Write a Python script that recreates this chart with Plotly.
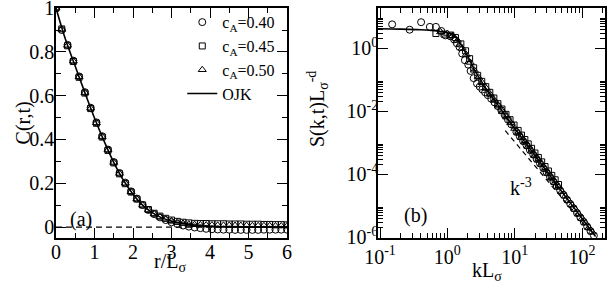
import plotly.graph_objects as go

# ---------------- panel (a): C(r,t) vs r/L ----------------
r_grid = [0.00, 0.15, 0.30, 0.45, 0.60, 0.75, 0.90, 1.05, 1.20, 1.35, 1.50, 1.65, 1.80, 1.95,
          2.10, 2.25, 2.40, 2.55, 2.70, 2.85, 3.00, 3.15, 3.30, 3.45, 3.60, 3.75, 3.90, 4.05,
          4.20, 4.35, 4.50, 4.65, 4.80, 4.95, 5.10, 5.25, 5.40, 5.55, 5.70, 5.85, 6.00]
C_040 = [1.000, 0.900, 0.832, 0.760, 0.688, 0.616, 0.545, 0.478, 0.415, 0.354, 0.297, 0.247,
         0.203, 0.163, 0.130, 0.101, 0.078, 0.059, 0.044, 0.032, 0.022, 0.014, 0.007, 0.002,
         -0.002, -0.005, -0.008, -0.010, -0.011, -0.012, -0.012, -0.013, -0.013, -0.013,
         -0.013, -0.013, -0.012, -0.012, -0.012, -0.012, -0.012]
C_045 = [1.000, 0.905, 0.828, 0.756, 0.684, 0.612, 0.541, 0.474, 0.411, 0.350, 0.293, 0.243,
         0.198, 0.160, 0.128, 0.101, 0.080, 0.063, 0.050, 0.040, 0.032, 0.026, 0.022, 0.019,
         0.017, 0.016, 0.016, 0.015, 0.015, 0.015, 0.014, 0.014, 0.014, 0.013, 0.013, 0.013,
         0.012, 0.012, 0.011, 0.011, 0.010]
C_050 = [1.000, 0.903, 0.830, 0.758, 0.686, 0.614, 0.543, 0.476, 0.413, 0.352, 0.295, 0.245,
         0.200, 0.161, 0.128, 0.100, 0.078, 0.060, 0.046, 0.036, 0.028, 0.022, 0.017, 0.013,
         0.011, 0.010, 0.009, 0.009, 0.008, 0.008, 0.008, 0.007, 0.007, 0.007, 0.006, 0.006,
         0.006, 0.006, 0.005, 0.005, 0.005]
r_ojk = [0.0, 0.25, 0.5, 0.75, 1.0, 1.25, 1.5, 1.75, 2.0, 2.25, 2.5, 2.75, 3.0, 3.25, 3.5,
         3.75, 4.0, 4.5, 5.0, 5.5, 6.0]
C_ojk = [1.0, 0.855, 0.734, 0.614, 0.498, 0.392, 0.295, 0.214, 0.150, 0.100, 0.066, 0.042,
         0.027, 0.017, 0.010, 0.006, 0.004, 0.002, 0.001, 0.0005, 0.0003]
r_zero = [0.0, 6.0]
C_zero = [0.0, 0.0]

# ---------------- panel (b): S(k,t) L^-d vs kL ----------------
k_040 = [0.1514, 0.2754, 0.4074, 0.5495, 0.6761, 0.8128, 0.9333, 1.109, 1.259, 1.380, 1.514,
         1.660, 1.820, 2.042, 2.213, 2.455, 2.754, 3.020, 3.311, 3.631, 3.981, 4.467, 5.012,
         5.623, 6.310, 7.079, 7.943, 8.913, 10.59, 11.89, 13.34, 14.96, 16.79, 18.84, 21.13,
         23.71, 26.61, 29.85, 33.50, 37.58, 42.17, 47.32, 53.09, 59.57, 66.83, 74.99, 84.14,
         94.41, 105.9, 118.9, 133.4, 149.6]
S_040 = [5.754, 3.890, 6.761, 4.786, 4.786, 3.548, 2.570, 2.399, 1.905, 1.445, 1.096,
         0.676, 0.417, 0.302, 0.1905, 0.1122, 0.0759, 0.0603, 0.0490, 0.0398, 0.0324, 0.0251,
         0.0191, 0.01445, 0.01072, 0.00759, 0.00537, 0.00380, 2.188e-3, 1.585e-3, 1.122e-3,
         8.128e-4, 5.888e-4, 4.169e-4, 3.020e-4, 2.188e-4, 1.549e-4, 1.122e-4, 8.128e-5,
         5.754e-5, 4.169e-5, 3.020e-5, 2.188e-5, 1.549e-5, 1.122e-5, 8.128e-6, 5.754e-6,
         4.169e-6, 3.020e-6, 2.138e-6, 1.549e-6, 1.122e-6]
k_045 = [0.676, 0.891, 1.122, 1.318, 1.585, 1.862, 2.138, 2.455, 2.818, 3.236, 3.715, 4.266,
         4.898, 5.623, 6.457, 7.413, 8.511, 9.772, 11.22, 12.59, 14.13, 15.85, 17.78, 19.95,
         22.39, 25.12, 28.18, 31.62, 35.48, 39.81, 44.67]
S_045 = [2.951, 2.818, 2.630, 2.188, 1.380, 0.832, 0.468, 0.240, 0.138, 0.0891, 0.0603,
         0.0398, 0.0263, 0.01738, 0.01175, 0.00794, 0.00537, 0.00363, 0.00245, 0.00174,
         0.00126, 9.12e-4, 6.61e-4, 4.68e-4, 3.39e-4, 2.45e-4, 1.74e-4, 1.26e-4, 9.12e-5,
         6.61e-5, 4.68e-5]
k_050 = [0.794, 1.0, 1.202, 1.413, 1.660, 1.905, 2.188, 2.512, 2.884, 3.311, 3.802, 4.365,
         5.012, 5.754, 6.607, 7.586, 8.710, 10.0, 11.22, 12.59, 14.13, 15.85, 17.78, 19.95,
         22.39, 25.12, 28.18, 31.62, 35.48, 39.81, 44.67, 50.12, 56.23, 63.10, 70.79, 79.43,
         89.13, 100.0, 112.2, 125.9, 141.3]
S_050 = [3.311, 2.951, 2.512, 1.778, 1.0, 0.631, 0.355, 0.1995, 0.1202, 0.0794, 0.0525,
         0.0339, 0.0219, 0.01445, 0.00955, 0.00646, 0.00427, 2.82e-3, 2.042e-3, 1.445e-3,
         1.047e-3, 7.586e-4, 5.370e-4, 3.890e-4, 2.818e-4, 2.042e-4, 1.445e-4, 1.047e-4,
         7.586e-5, 5.370e-5, 3.890e-5, 2.818e-5, 1.995e-5, 1.445e-5, 1.047e-5, 7.586e-6,
         5.370e-6, 3.890e-6, 2.818e-6, 1.995e-6, 1.445e-6]
k_ojk = [0.0891, 0.1995, 0.398, 0.631, 1.0, 1.259, 1.585, 1.862, 2.239, 2.630, 3.162, 3.715,
         4.677, 5.888, 7.943, 11.48, 18.20, 31.62, 56.23, 100.0, 158.5]
S_ojk = [4.17, 4.07, 3.89, 3.63, 3.09, 2.51, 1.318, 0.759, 0.355, 0.178, 0.0933, 0.0537,
         0.0269, 0.0138, 5.43e-3, 1.905e-3, 5.13e-4, 1.047e-4, 1.995e-5, 3.89e-6, 1.047e-6]
k_pow = [7.24, 135.0]
S_pow = [2.4e-3, 1.41e-6]

xlin_ticks = [0, 1, 2, 3, 4, 5, 6]
ylin_ticks = [0, 0.2, 0.4, 0.6, 0.8, 1.0]
ylin_text = ["0", "0.2", "0.4", "0.6", "0.8", "1"]
xlog_ticks = [0.1, 1, 10, 100]
xlog_text = ["10<sup>-1</sup>", "10<sup>0</sup>", "10<sup>1</sup>", "10<sup>2</sup>"]
ylog_ticks = [1e-6, 1e-4, 1e-2, 1]
ylog_text = ["10<sup>-6</sup>", "10<sup>-4</sup>", "10<sup>-2</sup>", "10<sup>0</sup>"]

FONT = "Liberation Serif, Times New Roman, serif"
series_names = ["c<sub>A</sub>=0.40", "c<sub>A</sub>=0.45", "c<sub>A</sub>=0.50"]
symbols = ["circle-open", "square-open", "triangle-up-open"]
sizes = [7, 6, 7]

fig = go.Figure()

for i, (cv, nm) in enumerate(zip([C_040, C_045, C_050], series_names)):
    fig.add_trace(go.Scatter(x=r_grid, y=cv, mode="markers", name=nm, legendgroup=str(i),
                             marker=dict(symbol=symbols[i], size=sizes[i], color="black",
                                         line=dict(width=1, color="black")),
                             xaxis="x", yaxis="y"))
fig.add_trace(go.Scatter(x=r_ojk, y=C_ojk, mode="lines", name="OJK", legendgroup="3",
                         line=dict(color="black", width=1.6, shape="spline"),
                         xaxis="x", yaxis="y"))
fig.add_trace(go.Scatter(x=r_zero, y=C_zero, mode="lines", showlegend=False,
                         line=dict(color="black", width=1.3, dash="6px,4px"),
                         xaxis="x", yaxis="y"))

for i, (kv, sv) in enumerate(zip([k_040, k_045, k_050], [S_040, S_045, S_050])):
    fig.add_trace(go.Scatter(x=kv, y=sv, mode="markers", showlegend=False,
                             marker=dict(symbol=symbols[i], size=sizes[i], color="black",
                                         line=dict(width=1, color="black")),
                             xaxis="x2", yaxis="y2"))
fig.add_trace(go.Scatter(x=k_ojk, y=S_ojk, mode="lines", showlegend=False,
                         line=dict(color="black", width=1.6, shape="spline"),
                         xaxis="x2", yaxis="y2"))
fig.add_trace(go.Scatter(x=k_pow, y=S_pow, mode="lines", showlegend=False,
                         line=dict(color="black", width=1.2, dash="5px,4px"),
                         xaxis="x2", yaxis="y2"))

common = dict(showline=True, linewidth=1.6, linecolor="black", mirror="allticks",
              ticks="inside", ticklen=10, tickwidth=1.4, tickcolor="black", automargin=False,
              ticklabeloverflow="allow",
              showgrid=False, zeroline=False, tickfont=dict(family=FONT, size=20, color="black"))

minor_x2 = [m * 10 ** e for e in (-1, 0, 1) for m in range(2, 10)] + [200]
minor_y2 = [m * 10.0 ** e for e in (-6, -4, -2, 0) for m in range(2, 10)]

fig.update_layout(
    width=610, height=297,
    margin=dict(l=56, r=5, t=8, b=59, autoexpand=False),
    paper_bgcolor="white", plot_bgcolor="white",
    font=dict(family=FONT, size=20, color="black"),
    showlegend=True,
    legend=dict(x=0.23, y=1.012, xanchor="left", yanchor="top",
                bgcolor="rgba(0,0,0,0)", font=dict(family=FONT, size=16),
                tracegroupgap=0, itemwidth=30),
    xaxis=dict(domain=[0, 0.4208], range=[0, 6], anchor="y",
               tickvals=xlin_ticks, ticklabelstandoff=-5,
               minor=dict(tickvals=[0.5, 1.5, 2.5, 3.5, 4.5, 5.5], ticks="inside", ticklen=5,
                          tickwidth=1.2, tickcolor="black"),
               **common),
    yaxis=dict(domain=[0, 1], range=[-0.05, 1.0005], anchor="x",
               tickvals=ylin_ticks, ticktext=ylin_text, ticklabelstandoff=-4,
               minor=dict(tickvals=[0.1, 0.3, 0.5, 0.7, 0.9], ticks="inside", ticklen=5,
                          tickwidth=1.2, tickcolor="black"),
               **common),
    xaxis2=dict(domain=[0.5865, 1], type="log", range=[-1.03, 2.34], anchor="y2",
                tickvals=xlog_ticks, ticktext=xlog_text,
                minor=dict(tickvals=minor_x2, ticks="inside", ticklen=5, tickwidth=1.2,
                           tickcolor="black"),
                **common),
    yaxis2=dict(domain=[0, 1], type="log", range=[-6.03, 1.28], anchor="x2",
                tickvals=ylog_ticks, ticktext=ylog_text, ticklabelstandoff=-6,
                minor=dict(tickvals=minor_y2, ticks="inside", ticklen=5, tickwidth=1.2,
                           tickcolor="black"),
                **common),
    annotations=[
        dict(text="(a)", x=0.65, y=0.036, xref="x", yref="y", showarrow=False,
             font=dict(family=FONT, size=20)),
        dict(text="(b)", x=-0.48, y=-5.33, xref="x2", yref="y2", showarrow=False,
             font=dict(family=FONT, size=20)),
        dict(text="k<sup>-3</sup>", x=1.09, y=-4.42, xref="x2", yref="y2", showarrow=False,
             font=dict(family=FONT, size=20)),
        dict(text="C(r,t)", x=-0.084, y=0.5, xref="paper", yref="paper", showarrow=False,
             textangle=-90, font=dict(family=FONT, size=20)),
        dict(text="S(k,t)L<sub>σ</sub><sup>-d</sup>", x=0.477, y=0.56, xref="paper",
             yref="paper", showarrow=False, textangle=-90, font=dict(family=FONT, size=20)),
        dict(text="r/L<sub>σ</sub>", x=0.208, y=-0.043, xref="paper", yref="paper",
             xanchor="center", yanchor="top", showarrow=False, font=dict(family=FONT, size=20)),
        dict(text="kL<sub>σ</sub>", x=0.785, y=-0.081, xref="paper", yref="paper",
             xanchor="center", yanchor="top", showarrow=False, font=dict(family=FONT, size=20)),
    ],
)

fig.write_html("out.html", config={"displayModeBar": False},
               post_script="document.body.style.margin='0';document.body.style.overflow='hidden';")
